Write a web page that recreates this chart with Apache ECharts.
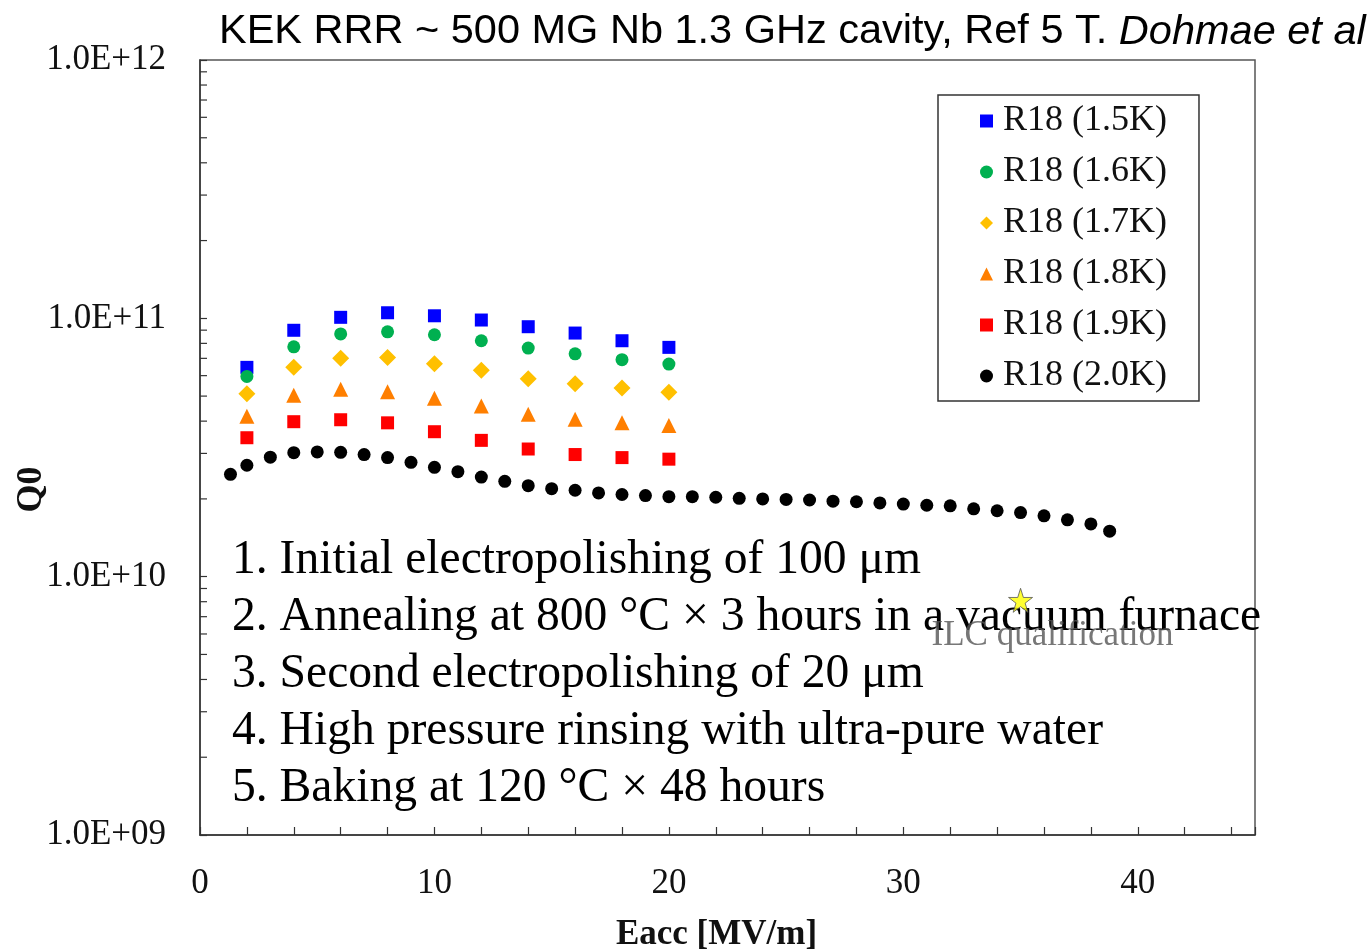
<!DOCTYPE html>
<html>
<head>
<meta charset="utf-8">
<script src="https://cdn.jsdelivr.net/npm/echarts@6/dist/echarts.min.js"></script>
<style>html,body{margin:0;padding:0;background:#fff}#c{width:1370px;height:950px}</style>
</head>
<body>
<div id="c"></div>
<script>
// ---- data ----
const xColored = [2, 4, 6, 8, 10, 12, 14, 16, 18, 20];
const q15K = [6.46e10, 8.99e10, 1.009e11, 1.051e11, 1.023e11, 9.85e10, 9.28e10, 8.77e10, 8.19e10, 7.72e10];
const q16K = [5.96e10, 7.76e10, 8.70e10, 8.87e10, 8.64e10, 8.19e10, 7.67e10, 7.29e10, 6.92e10, 6.65e10];
const q17K = [5.11e10, 6.46e10, 7.00e10, 7.06e10, 6.67e10, 6.29e10, 5.84e10, 5.58e10, 5.37e10, 5.17e10];
const q18K = [4.18e10, 5.04e10, 5.31e10, 5.20e10, 4.90e10, 4.58e10, 4.25e10, 4.07e10, 3.94e10, 3.85e10];
const q19K = [3.45e10, 3.98e10, 4.05e10, 3.94e10, 3.64e10, 3.37e10, 3.12e10, 2.97e10, 2.89e10, 2.85e10];
const x20K = [1.3, 2, 3, 4, 5, 6, 7, 8, 9, 10, 11, 12, 13, 14, 15, 16, 17, 18, 19, 20,
              21, 22, 23, 24, 25, 26, 27, 28, 29, 30, 31, 32, 33, 34, 35, 36, 37, 38, 38.8];
const q20K = [2.49e10, 2.70e10, 2.90e10, 3.02e10, 3.04e10, 3.03e10, 2.97e10, 2.89e10, 2.77e10, 2.65e10,
              2.55e10, 2.43e10, 2.34e10, 2.25e10, 2.19e10, 2.16e10, 2.11e10, 2.08e10, 2.06e10, 2.04e10,
              2.04e10, 2.03e10, 2.01e10, 2.00e10, 1.99e10, 1.98e10, 1.96e10, 1.95e10, 1.93e10, 1.91e10,
              1.89e10, 1.88e10, 1.83e10, 1.80e10, 1.77e10, 1.72e10, 1.66e10, 1.60e10, 1.50e10];
const ilcPoint = [35, 8.1e9];
const seriesNames = ['R18 (1.5K)', 'R18 (1.6K)', 'R18 (1.7K)', 'R18 (1.8K)', 'R18 (1.9K)', 'R18 (2.0K)'];
const xTickLabels = [0, 10, 20, 30, 40];
const yDecades = [1e9, 1e10, 1e11];
const yMinorMult = [2, 3, 4, 5, 6, 7, 8, 9];
const notes = [
  '1. Initial electropolishing of 100 μm',
  '2. Annealing at 800 °C × 3 hours in a vacuum furnace',
  '3. Second electropolishing of 20 μm',
  '4. High pressure rinsing with ultra-pure water',
  '5. Baking at 120 °C × 48 hours'
];

// ---- build ----
const pairs = (xs, ys) => xs.map((x, i) => [x, ys[i]]);
const minorTicks = [];
yDecades.forEach(d => yMinorMult.forEach(m => minorTicks.push([0, d * m])));

const serif = 'Liberation Serif, Times New Roman, serif';
const GL = 200, GT = 60, GR = 1255, GB = 835;

function scatter(name, data, symbol, size, color) {
  return { name, type: 'scatter', data, symbol, symbolSize: size,
    itemStyle: { color, opacity: 1 }, z: 3 };
}

const starPath = 'path://M50,2 L61.2,36.3 L97.6,36.3 L68.2,57.7 L79.4,92 L50,70.8 L20.6,92 L31.8,57.7 L2.4,36.3 L38.8,36.3 Z';

const noteStart = 558, noteStep = 57;
const option = {
  animation: false,
  backgroundColor: '#fff',
  title: {
    left: 214, top: 6,
    text: '{a|KEK RRR ~ 500 MG Nb 1.3 GHz cavity, Ref 5 T. }{b|Dohmae et al}',
    textStyle: {
      fontWeight: 'normal',
      rich: {
        a: { fontFamily: 'Liberation Sans, Arial, sans-serif', fontSize: 41.5, fontWeight: 'normal', color: '#000' },
        b: { fontFamily: 'Liberation Sans, Arial, sans-serif', fontSize: 41.5, fontWeight: 'normal', fontStyle: 'italic', color: '#000' }
      }
    }
  },
  grid: { left: GL, top: GT, width: GR - GL, height: GB - GT, show: true,
          outerBoundsMode: 'none', containLabel: false,
          borderColor: '#555', borderWidth: 1.5, backgroundColor: 'transparent' },
  legend: {
    orient: 'vertical', left: 938, top: 95,
    data: seriesNames,
    borderColor: '#333', borderWidth: 1.5, borderRadius: 0,
    padding: [6, 32, 5, 42],
    itemGap: 11, itemWidth: 13, itemHeight: 13,
    backgroundColor: '#fff',
    textStyle: { fontFamily: serif, fontSize: 36, lineHeight: 40, color: '#111', padding: [0, 0, 0, 5] }
  },
  xAxis: {
    type: 'value', min: 0, max: 45, interval: 2,
    name: 'Eacc [MV/m]', nameLocation: 'middle', nameGap: 82, nameMoveOverlap: false,
    nameTextStyle: { fontFamily: serif, fontSize: 35, fontWeight: 'bold', color: '#111', padding: [0, 22, 0, 0] },
    axisLine: { show: true, lineStyle: { color: '#333', width: 1.5 } },
    axisTick: { show: true, inside: true, length: 8, lineStyle: { color: '#333', width: 1.2 } },
    axisLabel: { fontFamily: serif, fontSize: 35, color: '#111', margin: 31,
      formatter: v => (xTickLabels.indexOf(v) >= 0 ? String(v) : '') },
    splitLine: { show: false }
  },
  yAxis: {
    type: 'log', logBase: 10, min: 1e9, max: 1e12,
    name: 'Q0', nameLocation: 'middle', nameRotate: 90, nameGap: 150, nameMoveOverlap: false,
    nameTextStyle: { fontFamily: serif, fontSize: 36, fontWeight: 'bold', color: '#111', padding: [0, 84, 0, 0] },
    axisLine: { show: true, lineStyle: { color: '#333', width: 1.5 } },
    axisTick: { show: true, inside: true, length: 7, lineStyle: { color: '#333', width: 1.2 } },
    axisLabel: { fontFamily: serif, fontSize: 35, color: '#111', margin: 34,
      formatter: v => { const e = Math.round(Math.log10(v)); return '1.0E+' + (e < 10 ? '0' + e : e); } },
    splitLine: { show: false },
    minorTick: { show: false }
  },
  graphic: notes.map((t, i) => ({
    type: 'text', left: 232, top: noteStart + i * noteStep - 22, z: 1,
    style: { text: t, fontFamily: serif, fontSize: 47.6, fill: '#000' }
  })),
  series: [
    scatter(seriesNames[0], pairs(xColored, q15K), 'rect', 13, '#0000FF'),
    scatter(seriesNames[1], pairs(xColored, q16K), 'circle', 13, '#00B050'),
    scatter(seriesNames[2], pairs(xColored, q17K), 'diamond', 17, '#FFC000'),
    scatter(seriesNames[3], pairs(xColored, q18K), 'triangle', 15, '#FF7F00'),
    scatter(seriesNames[4], pairs(xColored, q19K), 'rect', 13, '#FF0000'),
    scatter(seriesNames[5], pairs(x20K, q20K), 'circle', 13, '#000000'),
    {
      type: 'scatter', name: 'ILC', data: [ilcPoint], symbol: starPath, symbolSize: 24, z: 4,
      itemStyle: { color: '#FFFF00', borderColor: '#555', borderWidth: 1 },
      label: { show: true, formatter: 'ILC qualification', position: 'inside', offset: [32, 36],
        fontFamily: serif, fontSize: 35, color: '#555' }
    },
    {
      type: 'custom', name: 'minorTicks', data: minorTicks, clip: false, silent: true, z: 2,
      renderItem: (params, api) => {
        const p = api.coord([api.value(0), api.value(1)]);
        return { type: 'line', shape: { x1: p[0], y1: p[1], x2: p[0] + 7, y2: p[1] },
                 style: { stroke: '#333', lineWidth: 1.2 } };
      }
    }
  ]
};
const chart = echarts.init(document.getElementById('c'), null, { renderer: 'canvas' });
chart.setOption(option);
</script>
</body>
</html>
